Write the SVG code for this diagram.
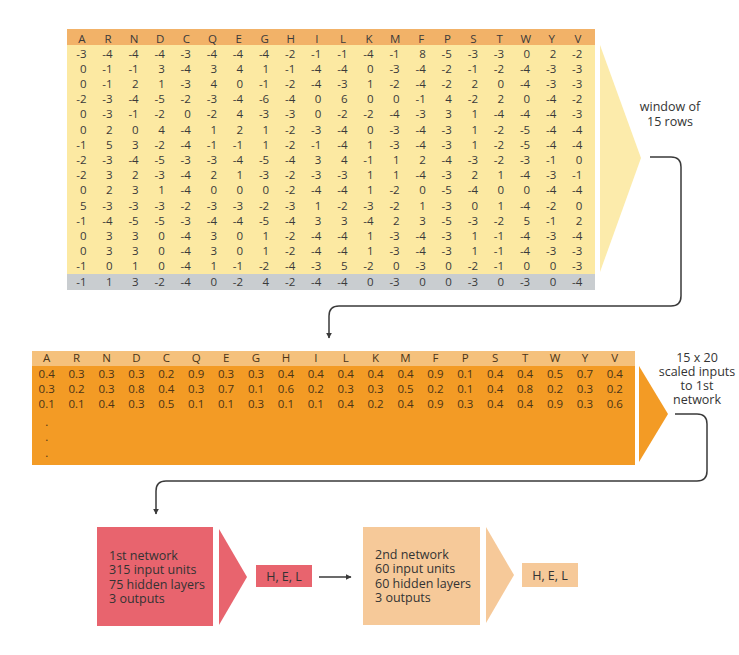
<svg xmlns="http://www.w3.org/2000/svg" width="739" height="655" viewBox="0 0 739 655">
<defs>
<style>
text{font-family:"Open Sans","Liberation Sans",sans-serif;fill:#3a3a3a}
.m{font-size:11.5px}
.h{font-size:11.5px;text-anchor:middle}
.r tspan{text-anchor:end}
.o{font-size:11.5px;text-anchor:middle;fill:#4a3418}
.lbl{font-size:12.5px;text-anchor:middle;fill:#333}
.nt{font-size:12.5px;fill:#333}
.hel{font-size:12.5px;text-anchor:middle;fill:#333}
.con{fill:none;stroke:#3a3a3a;stroke-width:1.5}
</style>
<marker id="ah" viewBox="0 0 10 10" refX="9" refY="5" markerWidth="6" markerHeight="6" orient="auto" markerUnits="userSpaceOnUse">
<path d="M0,0 L10,5 L0,10 z" fill="#3a3a3a"/>
</marker>
</defs>
<rect width="739" height="655" fill="#ffffff"/>

<g id="window-matrix">
<rect x="67" y="29" width="528" height="261" fill="#fce9a2"/>
<rect x="67" y="29" width="528" height="16" fill="#f2b268"/>
<rect x="67" y="274" width="528" height="16" fill="#c9cdd0"/>
<polygon points="600,45 641,158 600,272" fill="#fcebab"/>
<text class="h" y="43"><tspan x="82">A</tspan><tspan x="108.1">R</tspan><tspan x="134.2">N</tspan><tspan x="160.3">D</tspan><tspan x="186.4">C</tspan><tspan x="212.5">Q</tspan><tspan x="238.6">E</tspan><tspan x="264.7">G</tspan><tspan x="290.8">H</tspan><tspan x="316.9">I</tspan><tspan x="343">L</tspan><tspan x="369.1">K</tspan><tspan x="395.2">M</tspan><tspan x="421.3">F</tspan><tspan x="447.4">P</tspan><tspan x="473.5">S</tspan><tspan x="499.6">T</tspan><tspan x="525.7">W</tspan><tspan x="551.8">Y</tspan><tspan x="577.9">V</tspan></text>
<text class="m r" y="57.5"><tspan x="86.5">-3</tspan><tspan x="112.6">-4</tspan><tspan x="138.7">-4</tspan><tspan x="164.8">-4</tspan><tspan x="190.9">-3</tspan><tspan x="217">-4</tspan><tspan x="243.1">-4</tspan><tspan x="269.2">-4</tspan><tspan x="295.3">-2</tspan><tspan x="321.4">-1</tspan><tspan x="347.5">-1</tspan><tspan x="373.6">-4</tspan><tspan x="399.7">-1</tspan><tspan x="425.8">8</tspan><tspan x="451.9">-5</tspan><tspan x="478">-3</tspan><tspan x="504.1">-3</tspan><tspan x="530.2">0</tspan><tspan x="556.3">2</tspan><tspan x="582.4">-2</tspan></text>
<text class="m r" y="72.7"><tspan x="86.5">0</tspan><tspan x="112.6">-1</tspan><tspan x="138.7">-1</tspan><tspan x="164.8">3</tspan><tspan x="190.9">-4</tspan><tspan x="217">3</tspan><tspan x="243.1">4</tspan><tspan x="269.2">1</tspan><tspan x="295.3">-1</tspan><tspan x="321.4">-4</tspan><tspan x="347.5">-4</tspan><tspan x="373.6">0</tspan><tspan x="399.7">-3</tspan><tspan x="425.8">-4</tspan><tspan x="451.9">-2</tspan><tspan x="478">-1</tspan><tspan x="504.1">-2</tspan><tspan x="530.2">-4</tspan><tspan x="556.3">-3</tspan><tspan x="582.4">-3</tspan></text>
<text class="m r" y="87.9"><tspan x="86.5">0</tspan><tspan x="112.6">-1</tspan><tspan x="138.7">2</tspan><tspan x="164.8">1</tspan><tspan x="190.9">-3</tspan><tspan x="217">4</tspan><tspan x="243.1">0</tspan><tspan x="269.2">-1</tspan><tspan x="295.3">-2</tspan><tspan x="321.4">-4</tspan><tspan x="347.5">-3</tspan><tspan x="373.6">1</tspan><tspan x="399.7">-2</tspan><tspan x="425.8">-4</tspan><tspan x="451.9">-2</tspan><tspan x="478">2</tspan><tspan x="504.1">0</tspan><tspan x="530.2">-4</tspan><tspan x="556.3">-3</tspan><tspan x="582.4">-3</tspan></text>
<text class="m r" y="103.1"><tspan x="86.5">-2</tspan><tspan x="112.6">-3</tspan><tspan x="138.7">-4</tspan><tspan x="164.8">-5</tspan><tspan x="190.9">-2</tspan><tspan x="217">-3</tspan><tspan x="243.1">-4</tspan><tspan x="269.2">-6</tspan><tspan x="295.3">-4</tspan><tspan x="321.4">0</tspan><tspan x="347.5">6</tspan><tspan x="373.6">0</tspan><tspan x="399.7">0</tspan><tspan x="425.8">-1</tspan><tspan x="451.9">4</tspan><tspan x="478">-2</tspan><tspan x="504.1">2</tspan><tspan x="530.2">0</tspan><tspan x="556.3">-4</tspan><tspan x="582.4">-2</tspan></text>
<text class="m r" y="118.3"><tspan x="86.5">0</tspan><tspan x="112.6">-3</tspan><tspan x="138.7">-1</tspan><tspan x="164.8">-2</tspan><tspan x="190.9">0</tspan><tspan x="217">-2</tspan><tspan x="243.1">4</tspan><tspan x="269.2">-3</tspan><tspan x="295.3">-3</tspan><tspan x="321.4">0</tspan><tspan x="347.5">-2</tspan><tspan x="373.6">-2</tspan><tspan x="399.7">-4</tspan><tspan x="425.8">-3</tspan><tspan x="451.9">3</tspan><tspan x="478">1</tspan><tspan x="504.1">-4</tspan><tspan x="530.2">-4</tspan><tspan x="556.3">-4</tspan><tspan x="582.4">-3</tspan></text>
<text class="m r" y="133.5"><tspan x="86.5">0</tspan><tspan x="112.6">2</tspan><tspan x="138.7">0</tspan><tspan x="164.8">4</tspan><tspan x="190.9">-4</tspan><tspan x="217">1</tspan><tspan x="243.1">2</tspan><tspan x="269.2">1</tspan><tspan x="295.3">-2</tspan><tspan x="321.4">-3</tspan><tspan x="347.5">-4</tspan><tspan x="373.6">0</tspan><tspan x="399.7">-3</tspan><tspan x="425.8">-4</tspan><tspan x="451.9">-3</tspan><tspan x="478">1</tspan><tspan x="504.1">-2</tspan><tspan x="530.2">-5</tspan><tspan x="556.3">-4</tspan><tspan x="582.4">-4</tspan></text>
<text class="m r" y="148.7"><tspan x="86.5">-1</tspan><tspan x="112.6">5</tspan><tspan x="138.7">3</tspan><tspan x="164.8">-2</tspan><tspan x="190.9">-4</tspan><tspan x="217">-1</tspan><tspan x="243.1">-1</tspan><tspan x="269.2">1</tspan><tspan x="295.3">-2</tspan><tspan x="321.4">-1</tspan><tspan x="347.5">-4</tspan><tspan x="373.6">1</tspan><tspan x="399.7">-3</tspan><tspan x="425.8">-4</tspan><tspan x="451.9">-3</tspan><tspan x="478">1</tspan><tspan x="504.1">-2</tspan><tspan x="530.2">-5</tspan><tspan x="556.3">-4</tspan><tspan x="582.4">-4</tspan></text>
<text class="m r" y="163.9"><tspan x="86.5">-2</tspan><tspan x="112.6">-3</tspan><tspan x="138.7">-4</tspan><tspan x="164.8">-5</tspan><tspan x="190.9">-3</tspan><tspan x="217">-3</tspan><tspan x="243.1">-4</tspan><tspan x="269.2">-5</tspan><tspan x="295.3">-4</tspan><tspan x="321.4">3</tspan><tspan x="347.5">4</tspan><tspan x="373.6">-1</tspan><tspan x="399.7">1</tspan><tspan x="425.8">2</tspan><tspan x="451.9">-4</tspan><tspan x="478">-3</tspan><tspan x="504.1">-2</tspan><tspan x="530.2">-3</tspan><tspan x="556.3">-1</tspan><tspan x="582.4">0</tspan></text>
<text class="m r" y="179.1"><tspan x="86.5">-2</tspan><tspan x="112.6">3</tspan><tspan x="138.7">2</tspan><tspan x="164.8">-3</tspan><tspan x="190.9">-4</tspan><tspan x="217">2</tspan><tspan x="243.1">1</tspan><tspan x="269.2">-3</tspan><tspan x="295.3">-2</tspan><tspan x="321.4">-3</tspan><tspan x="347.5">-3</tspan><tspan x="373.6">1</tspan><tspan x="399.7">1</tspan><tspan x="425.8">-4</tspan><tspan x="451.9">-3</tspan><tspan x="478">2</tspan><tspan x="504.1">1</tspan><tspan x="530.2">-4</tspan><tspan x="556.3">-3</tspan><tspan x="582.4">-1</tspan></text>
<text class="m r" y="194.3"><tspan x="86.5">0</tspan><tspan x="112.6">2</tspan><tspan x="138.7">3</tspan><tspan x="164.8">1</tspan><tspan x="190.9">-4</tspan><tspan x="217">0</tspan><tspan x="243.1">0</tspan><tspan x="269.2">0</tspan><tspan x="295.3">-2</tspan><tspan x="321.4">-4</tspan><tspan x="347.5">-4</tspan><tspan x="373.6">1</tspan><tspan x="399.7">-2</tspan><tspan x="425.8">0</tspan><tspan x="451.9">-5</tspan><tspan x="478">-4</tspan><tspan x="504.1">0</tspan><tspan x="530.2">0</tspan><tspan x="556.3">-4</tspan><tspan x="582.4">-4</tspan></text>
<text class="m r" y="209.5"><tspan x="86.5">5</tspan><tspan x="112.6">-3</tspan><tspan x="138.7">-3</tspan><tspan x="164.8">-3</tspan><tspan x="190.9">-2</tspan><tspan x="217">-3</tspan><tspan x="243.1">-3</tspan><tspan x="269.2">-2</tspan><tspan x="295.3">-3</tspan><tspan x="321.4">1</tspan><tspan x="347.5">-2</tspan><tspan x="373.6">-3</tspan><tspan x="399.7">-2</tspan><tspan x="425.8">1</tspan><tspan x="451.9">-3</tspan><tspan x="478">0</tspan><tspan x="504.1">1</tspan><tspan x="530.2">-4</tspan><tspan x="556.3">-2</tspan><tspan x="582.4">0</tspan></text>
<text class="m r" y="224.7"><tspan x="86.5">-1</tspan><tspan x="112.6">-4</tspan><tspan x="138.7">-5</tspan><tspan x="164.8">-5</tspan><tspan x="190.9">-3</tspan><tspan x="217">-4</tspan><tspan x="243.1">-4</tspan><tspan x="269.2">-5</tspan><tspan x="295.3">-4</tspan><tspan x="321.4">3</tspan><tspan x="347.5">3</tspan><tspan x="373.6">-4</tspan><tspan x="399.7">2</tspan><tspan x="425.8">3</tspan><tspan x="451.9">-5</tspan><tspan x="478">-3</tspan><tspan x="504.1">-2</tspan><tspan x="530.2">5</tspan><tspan x="556.3">-1</tspan><tspan x="582.4">2</tspan></text>
<text class="m r" y="239.9"><tspan x="86.5">0</tspan><tspan x="112.6">3</tspan><tspan x="138.7">3</tspan><tspan x="164.8">0</tspan><tspan x="190.9">-4</tspan><tspan x="217">3</tspan><tspan x="243.1">0</tspan><tspan x="269.2">1</tspan><tspan x="295.3">-2</tspan><tspan x="321.4">-4</tspan><tspan x="347.5">-4</tspan><tspan x="373.6">1</tspan><tspan x="399.7">-3</tspan><tspan x="425.8">-4</tspan><tspan x="451.9">-3</tspan><tspan x="478">1</tspan><tspan x="504.1">-1</tspan><tspan x="530.2">-4</tspan><tspan x="556.3">-3</tspan><tspan x="582.4">-4</tspan></text>
<text class="m r" y="255.1"><tspan x="86.5">0</tspan><tspan x="112.6">3</tspan><tspan x="138.7">3</tspan><tspan x="164.8">0</tspan><tspan x="190.9">-4</tspan><tspan x="217">3</tspan><tspan x="243.1">0</tspan><tspan x="269.2">1</tspan><tspan x="295.3">-2</tspan><tspan x="321.4">-4</tspan><tspan x="347.5">-4</tspan><tspan x="373.6">1</tspan><tspan x="399.7">-3</tspan><tspan x="425.8">-4</tspan><tspan x="451.9">-3</tspan><tspan x="478">1</tspan><tspan x="504.1">-1</tspan><tspan x="530.2">-4</tspan><tspan x="556.3">-3</tspan><tspan x="582.4">-3</tspan></text>
<text class="m r" y="270.3"><tspan x="86.5">-1</tspan><tspan x="112.6">0</tspan><tspan x="138.7">1</tspan><tspan x="164.8">0</tspan><tspan x="190.9">-4</tspan><tspan x="217">1</tspan><tspan x="243.1">-1</tspan><tspan x="269.2">-2</tspan><tspan x="295.3">-4</tspan><tspan x="321.4">-3</tspan><tspan x="347.5">5</tspan><tspan x="373.6">-2</tspan><tspan x="399.7">0</tspan><tspan x="425.8">-3</tspan><tspan x="451.9">0</tspan><tspan x="478">-2</tspan><tspan x="504.1">-1</tspan><tspan x="530.2">0</tspan><tspan x="556.3">0</tspan><tspan x="582.4">-3</tspan></text>
<text class="m r" y="285.5"><tspan x="86.5">-1</tspan><tspan x="112.6">1</tspan><tspan x="138.7">3</tspan><tspan x="164.8">-2</tspan><tspan x="190.9">-4</tspan><tspan x="217">0</tspan><tspan x="243.1">-2</tspan><tspan x="269.2">4</tspan><tspan x="295.3">-2</tspan><tspan x="321.4">-4</tspan><tspan x="347.5">-4</tspan><tspan x="373.6">0</tspan><tspan x="399.7">-3</tspan><tspan x="425.8">0</tspan><tspan x="451.9">0</tspan><tspan x="478">-3</tspan><tspan x="504.1">0</tspan><tspan x="530.2">-3</tspan><tspan x="556.3">0</tspan><tspan x="582.4">-4</tspan></text>
</g>

<g id="window-label">
<text class="lbl" x="670" y="111">window of</text>
<text class="lbl" x="670" y="125.5">15 rows</text>
</g>

<g id="scaled-matrix">
<rect x="32" y="351" width="603" height="114" fill="#f39b25"/>
<rect x="32" y="351" width="603" height="15" fill="#f5c17c"/>
<polygon points="639,366 668,414 639,462" fill="#f39b25"/>
<text class="o" y="362"><tspan x="46.7">A</tspan><tspan x="76.6">R</tspan><tspan x="106.5">N</tspan><tspan x="136.4">D</tspan><tspan x="166.3">C</tspan><tspan x="196.2">Q</tspan><tspan x="226.1">E</tspan><tspan x="256">G</tspan><tspan x="285.9">H</tspan><tspan x="315.8">I</tspan><tspan x="345.7">L</tspan><tspan x="375.6">K</tspan><tspan x="405.5">M</tspan><tspan x="435.4">F</tspan><tspan x="465.3">P</tspan><tspan x="495.2">S</tspan><tspan x="525.1">T</tspan><tspan x="555">W</tspan><tspan x="584.9">Y</tspan><tspan x="614.8">V</tspan></text>
<text class="o" y="378"><tspan x="46.7">0.4</tspan><tspan x="76.6">0.3</tspan><tspan x="106.5">0.3</tspan><tspan x="136.4">0.3</tspan><tspan x="166.3">0.2</tspan><tspan x="196.2">0.9</tspan><tspan x="226.1">0.3</tspan><tspan x="256">0.3</tspan><tspan x="285.9">0.4</tspan><tspan x="315.8">0.4</tspan><tspan x="345.7">0.4</tspan><tspan x="375.6">0.4</tspan><tspan x="405.5">0.4</tspan><tspan x="435.4">0.9</tspan><tspan x="465.3">0.1</tspan><tspan x="495.2">0.4</tspan><tspan x="525.1">0.4</tspan><tspan x="555">0.5</tspan><tspan x="584.9">0.7</tspan><tspan x="614.8">0.4</tspan></text>
<text class="o" y="393"><tspan x="46.7">0.3</tspan><tspan x="76.6">0.2</tspan><tspan x="106.5">0.3</tspan><tspan x="136.4">0.8</tspan><tspan x="166.3">0.4</tspan><tspan x="196.2">0.3</tspan><tspan x="226.1">0.7</tspan><tspan x="256">0.1</tspan><tspan x="285.9">0.6</tspan><tspan x="315.8">0.2</tspan><tspan x="345.7">0.3</tspan><tspan x="375.6">0.3</tspan><tspan x="405.5">0.5</tspan><tspan x="435.4">0.2</tspan><tspan x="465.3">0.1</tspan><tspan x="495.2">0.4</tspan><tspan x="525.1">0.8</tspan><tspan x="555">0.2</tspan><tspan x="584.9">0.3</tspan><tspan x="614.8">0.2</tspan></text>
<text class="o" y="408"><tspan x="46.7">0.1</tspan><tspan x="76.6">0.1</tspan><tspan x="106.5">0.4</tspan><tspan x="136.4">0.3</tspan><tspan x="166.3">0.5</tspan><tspan x="196.2">0.1</tspan><tspan x="226.1">0.1</tspan><tspan x="256">0.3</tspan><tspan x="285.9">0.1</tspan><tspan x="315.8">0.1</tspan><tspan x="345.7">0.4</tspan><tspan x="375.6">0.2</tspan><tspan x="405.5">0.4</tspan><tspan x="435.4">0.9</tspan><tspan x="465.3">0.3</tspan><tspan x="495.2">0.4</tspan><tspan x="525.1">0.4</tspan><tspan x="555">0.9</tspan><tspan x="584.9">0.3</tspan><tspan x="614.8">0.6</tspan></text>
<text class="o" x="46.7" y="426">.</text>
<text class="o" x="46.7" y="441">.</text>
<text class="o" x="46.7" y="457">.</text>
</g>

<g id="scaled-label">
<text class="lbl" x="697" y="361.5">15 x 20</text>
<text class="lbl" x="697" y="375.8">scaled inputs</text>
<text class="lbl" x="697" y="390.1">to 1st</text>
<text class="lbl" x="697" y="404.4">network</text>
</g>

<g id="network1">
<rect x="97" y="527" width="116" height="99" fill="#e8646e"/>
<polygon points="219,529 247,577 219,625" fill="#e8646e"/>
<text class="nt" x="109" y="559.5">1st network</text>
<text class="nt" x="109" y="574">315 input units</text>
<text class="nt" x="109" y="588.5">75 hidden layers</text>
<text class="nt" x="109" y="603">3 outputs</text>
</g>

<g id="output1">
<rect x="256" y="565" width="56" height="22" fill="#e8646e"/>
<text class="hel" x="284" y="580.5">H, E, L</text>
</g>

<g id="network2">
<rect x="363" y="527" width="117" height="98" fill="#f6c999"/>
<polygon points="486,527 514,575 486,623" fill="#f6c999"/>
<text class="nt" x="375" y="558.5">2nd network</text>
<text class="nt" x="375" y="573">60 input units</text>
<text class="nt" x="375" y="587.5">60 hidden layers</text>
<text class="nt" x="375" y="602">3 outputs</text>
</g>

<g id="output2">
<rect x="522" y="563" width="56" height="24" fill="#f6c999"/>
<text class="hel" x="550" y="579.5">H, E, L</text>
</g>

<g id="connectors">
<path class="con" d="M650,157 H671 Q681,157 681,167 V296 Q681,306 671,306 H339 Q329,306 329,316 V338" marker-end="url(#ah)"/>
<path class="con" d="M675,414 H697 Q707,414 707,424 V471 Q707,481 697,481 H166 Q156,481 156,491 V514" marker-end="url(#ah)"/>
<path class="con" d="M319,577 H351" marker-end="url(#ah)"/>
</g>
</svg>
